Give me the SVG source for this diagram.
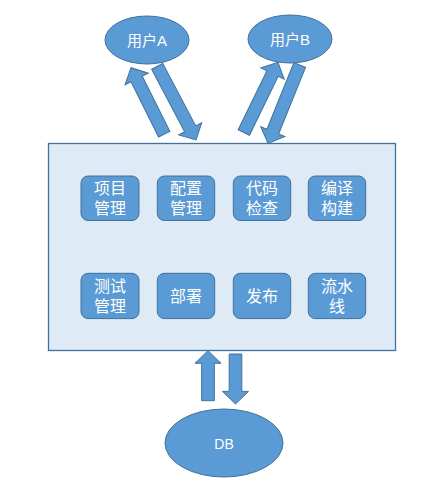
<svg xmlns="http://www.w3.org/2000/svg" width="445" height="497" viewBox="0 0 445 497">
<style>
.shape{fill:#5B9BD5;stroke:#41719C;stroke-width:1}
.panel{fill:#DEEBF7;stroke:#41719C;stroke-width:1.3}
.box{fill:#5B9BD5;stroke:#41719C;stroke-width:1}
.t{fill:#FFFFFF;font-family:"Liberation Sans","Noto Sans CJK SC",sans-serif;text-anchor:middle;dominant-baseline:central}
.tb{font-size:16px}
.te{font-size:14px}
.tu{font-size:15px}
</style>
<defs>
<polygon id="arr50" points="0,-6.3 37.4,-6.3 37.4,-13 50,0 37.4,13 37.4,6.3 0,6.3"/>
</defs>
<rect class="panel" x="48.5" y="143.5" width="347" height="207"/>
<g id="connectors">
<polygon class="shape" transform="translate(164.2,134.2) rotate(-116.5)" points="0,-6.3 61.7,-6.3 61.7,-13 74.3,0 61.7,13 61.7,6.3 0,6.3"/>
<polygon class="shape" transform="translate(157.2,66.3) rotate(62.2)" points="0,-6.3 70.7,-6.3 70.7,-13 83.3,0 70.7,13 70.7,6.3 0,6.3"/>
<polygon class="shape" transform="translate(243.8,132.5) rotate(-64)" points="0,-6.3 65.5,-6.3 65.5,-13 78.1,0 65.5,13 65.5,6.3 0,6.3"/>
<polygon class="shape" transform="translate(299.7,65) rotate(112)" points="0,-6.3 71.9,-6.3 71.9,-13 84.5,0 71.9,13 71.9,6.3 0,6.3"/>
<use href="#arr50" class="shape" transform="translate(208,400.7) rotate(-90)"/>
<use href="#arr50" class="shape" transform="translate(235.5,354) rotate(90)"/>
</g>
<g id="userA"><ellipse class="shape" cx="147" cy="40" rx="42" ry="24"/><text class="t tu" x="147" y="40.5">用户A</text></g>
<g id="userB"><ellipse class="shape" cx="290" cy="39" rx="42" ry="24"/><text class="t tu" x="290" y="39.5">用户B</text></g>
<g id="db"><ellipse class="shape" cx="224" cy="443" rx="59" ry="34"/><text class="t te" x="224" y="444">DB</text></g>
<g id="n1"><rect class="box" x="81" y="176" width="58" height="44.5" rx="7"/><text class="t tb" x="110" y="188">项目</text><text class="t tb" x="110" y="208">管理</text></g>
<g id="n2"><rect class="box" x="157.3" y="176" width="57.4" height="44.5" rx="7"/><text class="t tb" x="186" y="188">配置</text><text class="t tb" x="186" y="208">管理</text></g>
<g id="n3"><rect class="box" x="233.3" y="176" width="57.4" height="44.5" rx="7"/><text class="t tb" x="262" y="188">代码</text><text class="t tb" x="262" y="208">检查</text></g>
<g id="n4"><rect class="box" x="308.3" y="176" width="57.4" height="44.5" rx="7"/><text class="t tb" x="337" y="188">编译</text><text class="t tb" x="337" y="208">构建</text></g>
<g id="n5"><rect class="box" x="81" y="273.3" width="58" height="45.3" rx="7"/><text class="t tb" x="110" y="286">测试</text><text class="t tb" x="110" y="306">管理</text></g>
<g id="n6"><rect class="box" x="157.3" y="273.3" width="57.4" height="45.3" rx="7"/><text class="t tb" x="186" y="296">部署</text></g>
<g id="n7"><rect class="box" x="233.3" y="273.3" width="57.4" height="45.3" rx="7"/><text class="t tb" x="262" y="296">发布</text></g>
<g id="n8"><rect class="box" x="308.3" y="273.3" width="57.4" height="45.3" rx="7"/><text class="t tb" x="337" y="286">流水</text><text class="t tb" x="337" y="306">线</text></g>
</svg>
